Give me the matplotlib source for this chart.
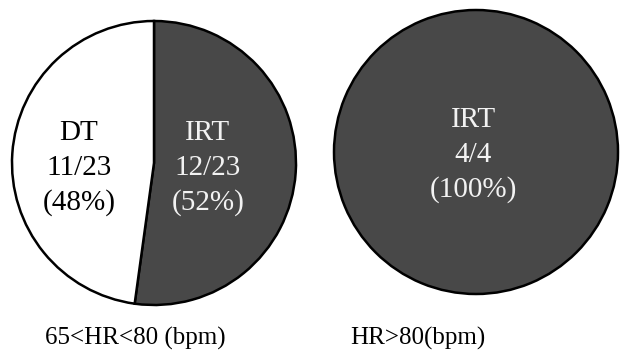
import matplotlib.pyplot as plt

# data
groups = ["65<HR<80 (bpm)", "HR>80(bpm)"]
left_labels = ["IRT", "DT"]
left_counts = [12, 11]
right_labels = ["IRT"]
right_counts = [4]

dark = "#484848"
plt.rcParams["font.family"] = ["Liberation Serif", "DejaVu Serif"]

fig = plt.figure(figsize=(6.21, 3.5), dpi=100)
ax = fig.add_axes([0, 0, 1, 1])

wp = dict(edgecolor="black", linewidth=1.8)
R = 142
left_c = (154, 187)
right_c = (476, 198)

ax.pie(left_counts, colors=[dark, "white"], startangle=90, counterclock=False,
       center=left_c, radius=R, wedgeprops=wp)
ax.pie(right_counts, colors=[dark], startangle=90, counterclock=False,
       center=right_c, radius=R, wedgeprops=wp)


def pie_text(x, y, name, n, total, color):
    lines = [name, f"{n}/{total}", f"({round(100 * n / total)}%)"]
    for i, s in enumerate(lines):
        ax.text(x, y + (1 - i) * 35, s, ha="center", va="center",
                fontsize=21, color=color)


tot = sum(left_counts)
pie_text(left_c[0] + 54, left_c[1] - 5, left_labels[0], left_counts[0], tot, "#f2f2f2")
pie_text(left_c[0] - 75, left_c[1] - 5, left_labels[1], left_counts[1], tot, "black")
pie_text(right_c[0] - 3, right_c[1] - 3, right_labels[0], right_counts[0], sum(right_counts), "#f2f2f2")

ax.text(135, 12, groups[0], ha="center", va="center", fontsize=18)
ax.text(418, 12, groups[1], ha="center", va="center", fontsize=18)

ax.set_xlim(0, 621)
ax.set_ylim(0, 350)
ax.set_aspect("equal")
ax.axis("off")

fig.savefig("out.png", dpi=100, facecolor="white")
